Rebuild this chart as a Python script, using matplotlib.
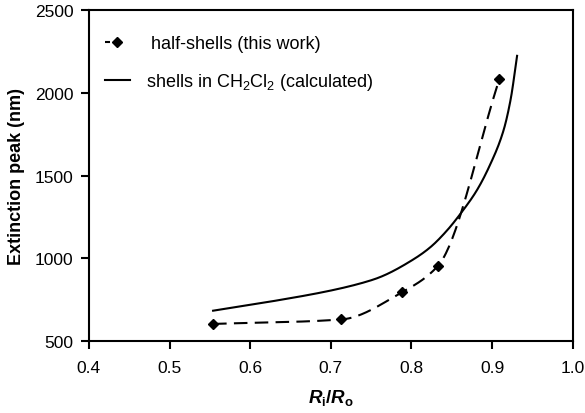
import matplotlib
matplotlib.use("Agg")
import matplotlib.pyplot as plt
from matplotlib.lines import Line2D
import numpy as np

plt.rcParams['font.family'] = ['Liberation Sans', 'DejaVu Sans']
plt.rcParams['mathtext.fontset'] = 'custom'
plt.rcParams['mathtext.it'] = 'Liberation Sans:italic:bold'
plt.rcParams['mathtext.rm'] = 'Liberation Sans:bold'
plt.rcParams['mathtext.sf'] = 'Liberation Sans'

# measured half-shells
half_x = [0.554, 0.713, 0.788, 0.833, 0.909]
half_y = [603, 630, 794, 955, 2083]

# calculated shells in CH2Cl2
calc_x = [0.554, 0.620, 0.703, 0.744, 0.761, 0.802, 0.823, 0.843, 0.864, 0.881, 0.897, 0.914, 0.923, 0.931]
calc_y = [683, 734, 808, 858, 886, 992, 1065, 1162, 1290, 1410, 1560, 1770, 1960, 2224]

x_ticks = [0.4, 0.5, 0.6, 0.7, 0.8, 0.9, 1.0]
x_tick_labels = ['0.4', '0.5', '0.6', '0.7', '0.8', '0.9', '1.0']
y_ticks = [500, 1000, 1500, 2000, 2500]


def pchip(xs, ys, n=40):
    """Monotone cubic (Fritsch-Carlson) smoothing of a polyline for drawing."""
    x = np.asarray(xs, float)
    y = np.asarray(ys, float)
    h = np.diff(x)
    d = np.diff(y) / h
    m = np.zeros_like(x)
    m[0], m[-1] = d[0], d[-1]
    for i in range(1, len(x) - 1):
        if d[i - 1] * d[i] <= 0:
            m[i] = 0
        else:
            w1 = 2 * h[i] + h[i - 1]
            w2 = h[i] + 2 * h[i - 1]
            m[i] = (w1 + w2) / (w1 / d[i - 1] + w2 / d[i])
    ox, oy = [], []
    t = np.linspace(0, 1, n)
    for i in range(len(x) - 1):
        h00 = 2 * t**3 - 3 * t**2 + 1
        h10 = t**3 - 2 * t**2 + t
        h01 = -2 * t**3 + 3 * t**2
        h11 = t**3 - t**2
        ox.extend(x[i] + t * h[i])
        oy.extend(h00 * y[i] + h10 * h[i] * m[i] + h01 * y[i + 1] + h11 * h[i] * m[i + 1])
    return np.array(ox), np.array(oy)


fig = plt.figure(figsize=(5.85, 4.14), dpi=100)
ax = fig.add_axes([0.152, 0.174, 0.827, 0.799])

dash = (0, (6.5, 3.5))
sx, sy = pchip(half_x, half_y)
ax.plot(sx, sy, color='black', linestyle=dash, linewidth=1.5)
ax.plot(half_x, half_y, linestyle='none', marker='D', markersize=5, color='black')

cx, cy = pchip(calc_x, calc_y)
ax.plot(cx, cy, color='black', linestyle='-', linewidth=1.5)

ax.set_xlim(0.4, 1.0)
ax.set_ylim(500, 2500)
ax.set_xticks(x_ticks)
ax.set_xticklabels(x_tick_labels)
ax.set_yticks(y_ticks)
ax.tick_params(direction='out', length=6, width=1.5, labelsize=12.5, colors='black')
ax.tick_params(axis='x', pad=8)
ax.tick_params(axis='y', pad=5)
for s in ax.spines.values():
    s.set_linewidth(1.5)

ax.set_ylabel('Extinction peak (nm)', fontsize=13, fontweight='bold', labelpad=7)
ax.set_xlabel(r'$R_{\rm i}/R_{\rm o}$', fontsize=13.5, labelpad=8)

h1 = Line2D([], [], color='black', linestyle=(0, (2.4, 40)), linewidth=1.5,
            marker='D', markersize=5)
h2 = Line2D([], [], color='black', linestyle='-', linewidth=1.5)
leg = ax.legend([h1, h2], [' half-shells (this work)',
                           r'shells in CH$_\mathsf{2}$Cl$_\mathsf{2}$ (calculated)'],
                loc='upper left', bbox_to_anchor=(0.033, 0.925), frameon=False,
                borderpad=0, borderaxespad=0,
                fontsize=13, handlelength=1.38, handletextpad=0.9, labelspacing=1.05)

fig.savefig('out.png', dpi=100)
